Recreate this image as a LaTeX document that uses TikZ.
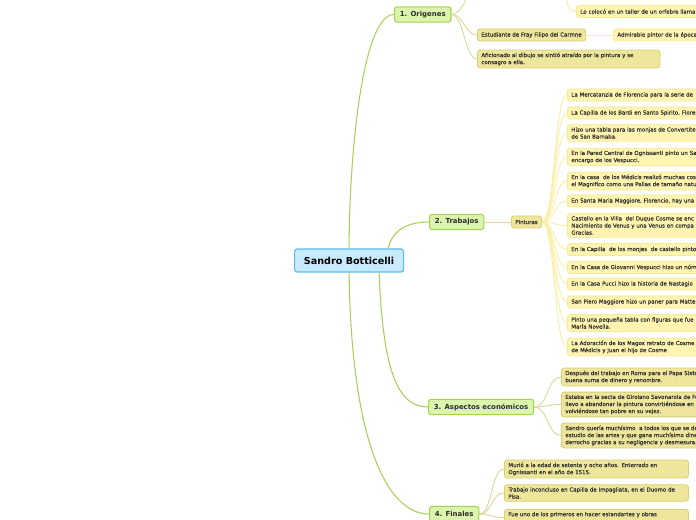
\documentclass[tikz,border=0pt]{standalone}
\usepackage{fontspec}
\newfontfamily\mapfont{DejaVu Sans}
\newfontfamily\leaffont[UprightFeatures={FakeBold=0.25}]{DejaVu Sans}
\usetikzlibrary{positioning, calc}
\definecolor{rootFill}{HTML}{C8EBFB}
\definecolor{rootLine}{HTML}{5CBCEA}
\definecolor{mainFill}{HTML}{DCF5AD}
\definecolor{mainLine}{HTML}{A5D24F}
\definecolor{subFill}{HTML}{EEE69B}
\definecolor{subLine}{HTML}{D8D07A}
\definecolor{leafFill}{HTML}{FFF5B1}
\definecolor{leafLine}{HTML}{F8E99A}
\definecolor{branchLine}{HTML}{A8D15A}
\definecolor{stemLine}{HTML}{DDD79A}
\definecolor{twigLine}{HTML}{FBEFA6}
\definecolor{ink}{HTML}{2E2E2E}

\begin{document}
\begin{tikzpicture}[x=0.75pt, y=-0.75pt,
  rootbox/.style={draw=rootLine, fill=rootFill, line width=0.9pt, rounded corners=2pt,
                  minimum width=81.75pt, minimum height=17.25pt, inner sep=2pt,
                  font=\mapfont\bfseries\fontsize{7.2}{8.6}\selectfont},
  mainbox/.style={draw=mainLine, fill=mainFill, line width=0.8pt, rounded corners=2pt,
                  minimum height=11.5pt, inner xsep=4pt, inner ysep=1pt, text=ink,
                  font=\mapfont\bfseries\fontsize{5.2}{6.2}\selectfont},
  subbox/.style={draw=subLine, fill=subFill, line width=0.6pt, rounded corners=2pt,
                 align=left, minimum height=9pt, inner xsep=3pt, inner ysep=2pt, text=ink,
                 font=\leaffont\fontsize{4.1}{5.3}\selectfont},
  leafbox/.style={subbox, draw=leafLine, fill=leafFill},
  branch/.style={draw=branchLine, line width=0.8pt},
  stem/.style={draw=stemLine, line width=0.7pt},
  twig/.style={draw=twigLine, line width=0.7pt}
]
\useasboundingbox (0,0) rectangle (696,520);
\clip (0,0) rectangle (696,520);
\fill[white] (0,0) rectangle (696,520);

% centre
\node[rootbox, anchor=west] (botticelli) at (294,260.5) {Sandro Botticelli};

% main branches
\node[mainbox, anchor=west] (origenes) at (394,14.5) {1. Origenes};
\node[mainbox, anchor=west] (trabajos) at (429,222) {2. Trabajos};
\node[mainbox, anchor=west] (economia) at (428,407) {3. Aspectos económicos};
\node[mainbox, anchor=west] (finales) at (429,514) {4. Finales};

% origenes
\coordinate (linaje) at (480,-14);
\coordinate (taller) at (566,-14);
\node[leafbox, anchor=west, text width=150pt] (orfebre) at (576,11.5)
  {Lo colocó en un taller de un orfebre llama};
\node[subbox, anchor=west] (fray) at (477,35) {Estudiante de Fray Filipo del Carmne};
\node[leafbox, anchor=west, text width=150pt] (admirable) at (613,35) {Admirable pintor de la época};
\node[subbox, anchor=west, text width=131pt] (dibujo) at (477,59)
  {Aficionado al dibujo se sintió atraído por la pintura y se\\consagro a ella.};

% trabajos
\node[subbox, anchor=west] (pinturas) at (511,222) {Pinturas};
\node[leafbox, anchor=west, text width=150pt] (mercatanzia) at (567,95)
  {La Mercatanzia de Florencia para la serie de};
\node[leafbox, anchor=west, text width=150pt] (bardi) at (567,113)
  {La Capilla de los Bardi en Santo Spirito, Floren};
\node[leafbox, anchor=west, text width=150pt] (convertite) at (567,133)
  {Hizo una tabla para las monjas de Convertite\\de San Barnaba.};
\node[leafbox, anchor=west, text width=150pt] (ognissanti) at (567,157)
  {En la Pared Central de Ognissanti pinto un Sa\\encargo de los Vespucci.};
\node[leafbox, anchor=west, text width=150pt] (medicis) at (567,181)
  {En la casa\ \ de los Médicis realizó muchas cos\\el Magnifico como una Pallas de tamaño natu};
\node[leafbox, anchor=west, text width=150pt] (maggiore) at (567,201)
  {En Santa Maria Maggiore, Florencio, hay una};
\node[leafbox, anchor=west, text width=150pt] (castello) at (567,225.5)
  {Castello en la Villa\ \ del Duque Cosme se enc\\Nacimiento de Venus y una Venus en compa\\Gracias.};
\node[leafbox, anchor=west, text width=150pt] (monjes) at (567,249.5)
  {En la Capilla\ \ de los monjes\ \ de castello pinto};
\node[leafbox, anchor=west, text width=150pt] (vespucci) at (567,267.5)
  {En la Casa de Giovanni Vespucci hizo un núm};
\node[leafbox, anchor=west, text width=150pt] (pucci) at (567,284)
  {En la Casa Pucci hizo la historia de Nastagio};
\node[leafbox, anchor=west, text width=150pt] (piero) at (567,302)
  {San Piero Maggiore hizo un paner para Matte};
\node[leafbox, anchor=west, text width=150pt] (novella) at (567,323)
  {Pinto una pequeña tabla con figuras que fue\\María Novella.};
\node[leafbox, anchor=west, text width=150pt] (magos) at (567,347)
  {La Adoración de los Magos retrato de Cosme\\de Médicis y Juan el hijo de Cosme};

% aspectos economicos
\node[subbox, anchor=west, text width=150pt] (sixto) at (561,377)
  {Después del trabajo en Roma para el Papa Sixto\\buena suma de dinero y renombre.};
\node[subbox, anchor=west, text width=150pt] (savonarola) at (561,404.5)
  {Estaba en la secta de Girolano Savonarola de Fe\\llevo a abandonar la pintura convirtiéndose en\\volviéndose tan pobre en su vejez.};
\node[subbox, anchor=west, text width=150pt] (desmesura) at (561,435.5)
  {Sandro quería muchísimo\ \ a todos los que se de\\estudio de las artes y que gana muchísimo dine\\derrocho gracias a su negligencia y desmesura.};

% finales
\node[subbox, anchor=west, text width=132pt] (muerte) at (504,469)
  {Murió a la edad de setenta y ocho años. Enterrado en\\Ognissanti en el año de 1515.};
\node[subbox, anchor=west, text width=132pt] (pisa) at (504,493)
  {Trabajo inconcluso en Capilla de Impagliata, en el Duomo de\\Pisa.};
\node[subbox, anchor=north west, text width=132pt] (estandartes) at (504,509)
  {Fue uno de los primeros en hacer estandartes y obras\\\mbox{}};

% connectors from the centre
\draw[branch] (botticelli.north) .. controls +(0,-90) and +(-32,0) .. (origenes.west);
\draw[branch] ([xshift=-12pt]botticelli.north east) .. controls +(4,-18) and +(-22,0) .. (trabajos.west);
\draw[branch] ([xshift=22.5pt]botticelli.south) .. controls +(4,100) and +(-30,0) .. (economia.west);
\draw[branch] (botticelli.south) .. controls +(2,160) and +(-45,0) .. (finales.west);

% origenes
\draw[stem] (origenes.east) .. controls +(12,0) and +(-12,0) .. (linaje);
\draw[stem] (origenes.east) .. controls +(12,0) and +(-12,0) .. (fray.west);
\draw[stem] (origenes.east) .. controls +(12,0) and +(-12,0) .. (dibujo.west);
\draw[twig] (taller) .. controls +(0,18) and +(-8,0) .. (orfebre.west);
\draw[twig] (fray.east) -- (admirable.west);

% trabajos
\draw[stem] (trabajos.east) -- (pinturas.west);
\foreach \leaf in {mercatanzia, bardi, convertite, ognissanti, medicis, maggiore, castello,
                   monjes, vespucci, pucci, piero, novella, magos}
  \draw[twig] (pinturas.east) .. controls +(13,0) and +(-13,0) .. (\leaf.west);

% aspectos economicos
\foreach \leaf in {sixto, savonarola, desmesura}
  \draw[stem] (economia.east) .. controls +(14,0) and +(-14,0) .. (\leaf.west);

% finales
\foreach \leaf in {muerte, pisa, estandartes}
  \draw[stem] (finales.east) .. controls +(13,0) and +(-13,0) .. (\leaf.west);
\end{tikzpicture}
\end{document}
